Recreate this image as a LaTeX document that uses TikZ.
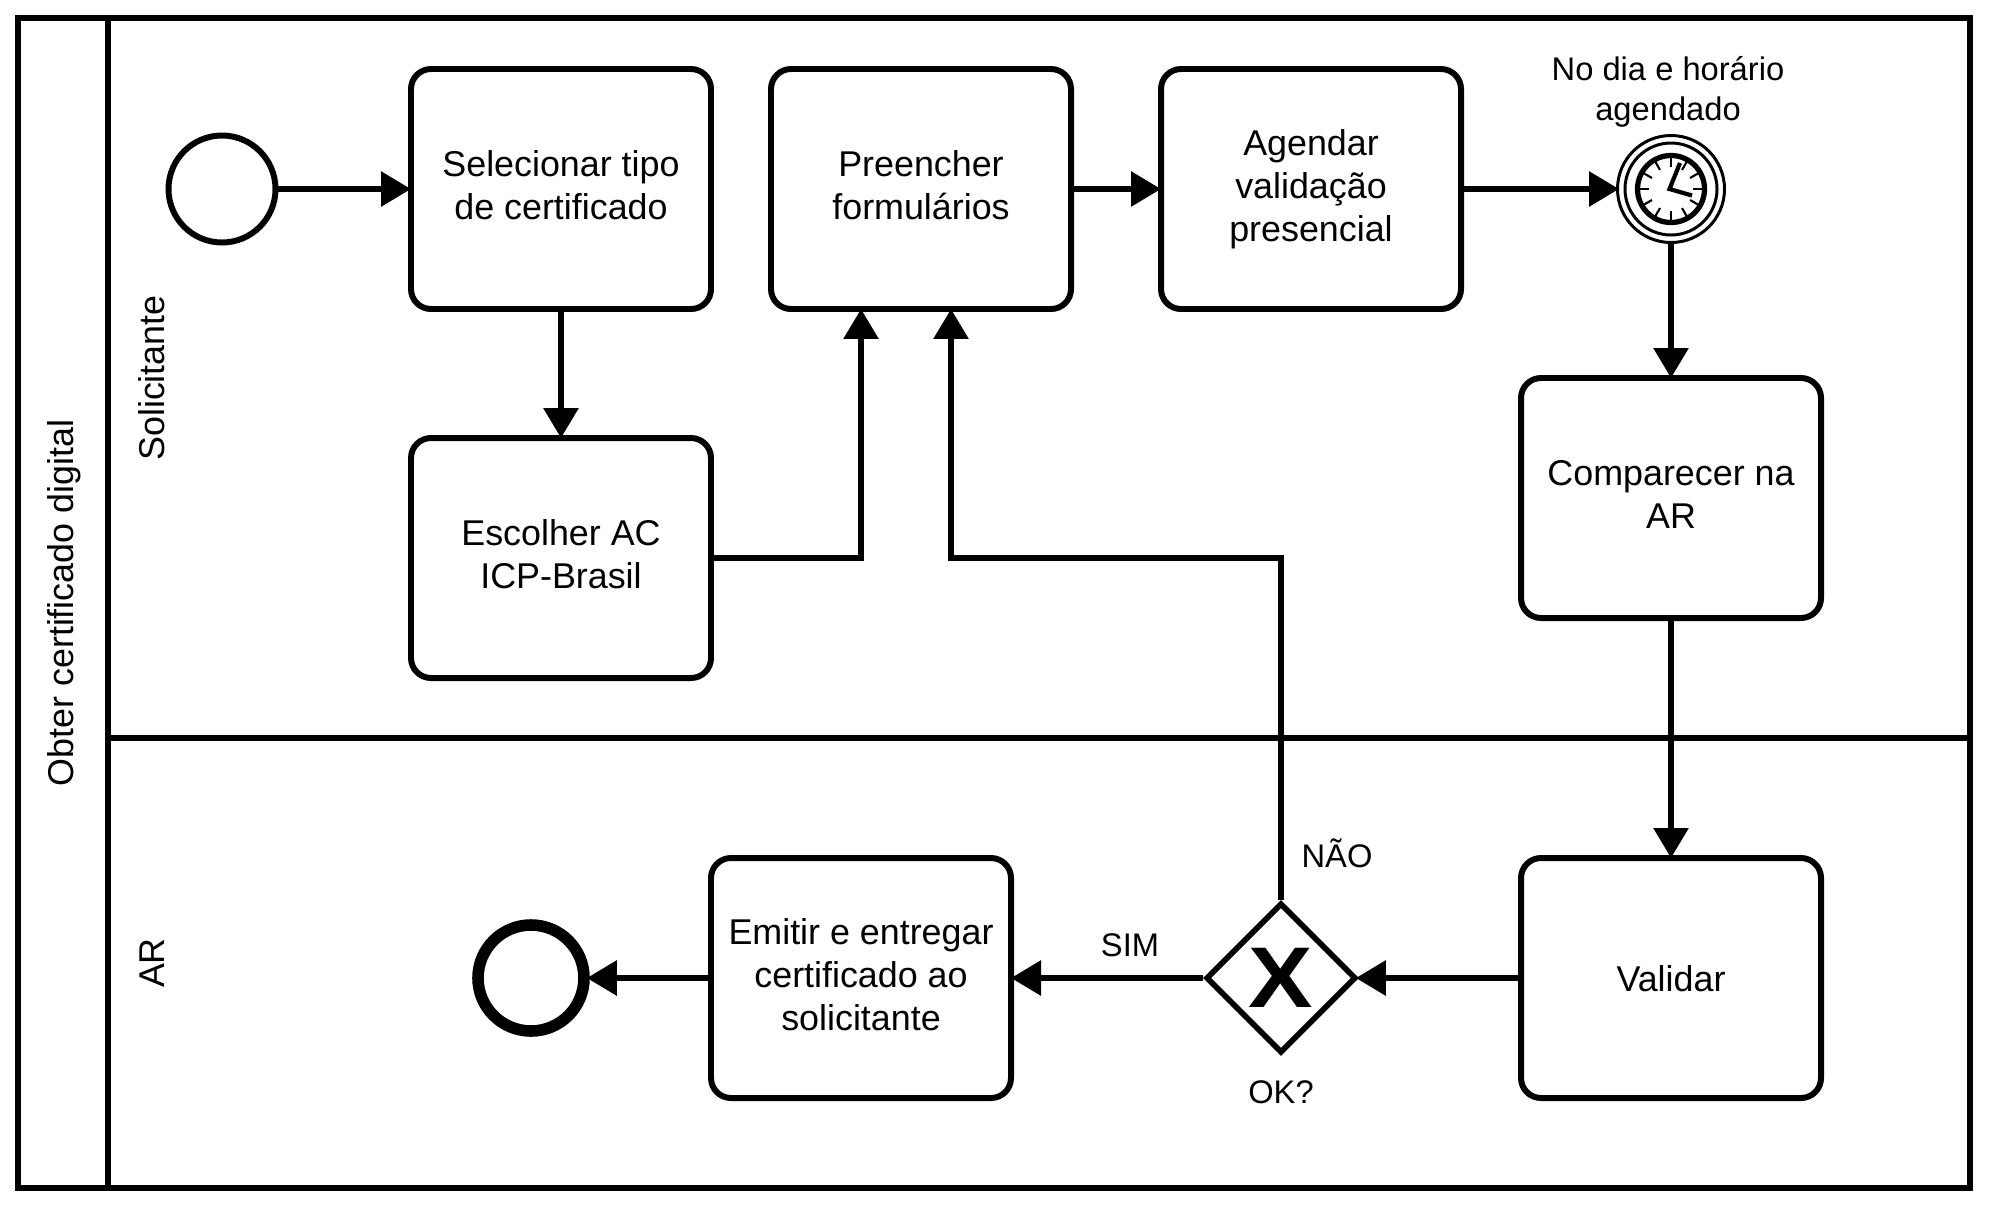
\documentclass[tikz,border=0pt]{standalone}
\usepackage{fontspec}
\setmainfont{Liberation Sans}
\usetikzlibrary{calc}
\usetikzlibrary{shapes.geometric}
\usetikzlibrary{arrows.meta}
\newcommand\TaskStrut{\rule[-2.2pt]{0pt}{12.2pt}}
\tikzset{
  task/.style={%
    draw=black,
    line width=1.7pt,
    rounded corners=0.2cm,
    minimum width=3cm,
    minimum height=2.4cm,
    inner sep=0,
    align=center,
    font=\fontsize{10.2}{12.2}\selectfont,
    execute at begin node=\TaskStrut,
    execute at end node=\TaskStrut,
  },
  startevent/.style={%
    draw=black,
    circle,
    line width=1.7pt,
    inner sep=0,
    minimum width=1.07cm,
  },
  endevent/.style={%
    draw=black,
    circle,
    line width=3.3pt,
    inner sep=0,
    minimum width=1.06cm,
  },
  timerevent/.style={%
    draw=black,
    circle,
    line width=0.85pt,
    inner sep=0,
    minimum width=1.07cm,
  },
  gate/.style={%
    draw=black,
    diamond,
    line width=1.6pt,
    inner sep=0,
    minimum width=1.50cm,
    minimum height=1.50cm,
    font=\fontsize{24.5}{24.5}\selectfont\bfseries,
  },
  flow/.style={%
    line width=1.7pt,
    shorten >=-0.03cm,
    -{Triangle[length=0.30cm,width=0.34cm]},
  },
  lane/.style={font=\fontsize{10.2}{12.2}\selectfont,rotate=90},
  note/.style={font=\fontsize{9.3}{11.2}\selectfont,align=center},
}
\newcommand\Clock[1]{% ticks and hands inside the timer event
  \draw [line width=0.85pt] (#1) circle (0.46cm);
  \draw [line width=1.5pt] (#1) circle (0.335cm);
  \foreach \a in {0,30,...,330}
    \draw [line width=0.6pt] ($(#1)+(\a:0.22cm)$) -- ($(#1)+(\a:0.32cm)$);
  \draw [line width=1.2pt] ($(#1)+(0.09,0.26)$) -- ($(#1)+(-0.015,0)$) -- ($(#1)+(0.21,-0.065)$);
}
\begin{document}
\begin{tikzpicture}
    \useasboundingbox (0,0) rectangle (19.89,-12.06);
    % pool and lanes
    \draw [line width=1.7pt] (0.18,-0.18) rectangle (19.70,-11.88);
    \draw [line width=1.7pt] (1.08,-0.18) -- (1.08,-11.88);
    \draw [line width=1.7pt] (1.08,-7.38) -- (19.70,-7.38);
    \node (pool) [lane] at (0.645,-6.03) {Obter certificado digital};
    \node (solicitante) [lane] at (1.52,-3.78) {Solicitante};
    \node (ar) [lane] at (1.52,-9.63) {AR};

    \node (inicio) [startevent] at (2.22,-1.89) {};
    \node (selecionar) [task] at (5.61,-1.89) {Selecionar tipo\\de certificado};
    \node (escolher) [task] at (5.61,-5.58) {Escolher AC\\ICP-Brasil};
    \node (preencher) [task] at (9.21,-1.89) {Preencher\\formulários};
    \node (agendar) [task] at (13.11,-1.89) {Agendar\\validação\\presencial};
    \node (timer) [timerevent] at (16.71,-1.89) {};
    \Clock{timer.center}
    \node (agendado) [note] at (16.68,-0.92) {No dia e horário\\agendado};
    \node (comparecer) [task] at (16.71,-4.98) {Comparecer na\\AR};
    \node (validar) [task] at (16.71,-9.78) {Validar};
    \node (gateway) [gate] at (12.81,-9.78) {\scalebox{1.12}[1]{X}};
    \node (ok) [note] at (12.81,-10.92) {OK?};
    \node (nao) [note] at (13.37,-8.53) {NÃO};
    \node (sim) [note] at (11.30,-9.45) {SIM};
    \node (emitir) [task] at (8.61,-9.78) {Emitir e entregar\\certificado ao\\solicitante};
    \node (fim) [endevent] at (5.31,-9.78) {};

    \coordinate (prea) at (8.61,0 |- preencher.south);
    \coordinate (preb) at (9.51,0 |- preencher.south);

    \draw [flow] (inicio) -- (selecionar);
    \draw [flow] (selecionar) -- (escolher);
    \draw [flow] (escolher.east) -| (prea);
    \draw [flow] (preencher) -- (agendar);
    \draw [flow] (agendar) -- (timer);
    \draw [flow] (timer) -- (comparecer);
    \draw [flow] (comparecer) -- (validar);
    \draw [flow] (validar) -- (gateway);
    \draw [flow] (gateway) -- (emitir);
    \draw [flow] (emitir) -- (fim);
    \draw [flow] (gateway.north) |- (escolher.east -| preb) -- (preb);
\end{tikzpicture}
\end{document}
